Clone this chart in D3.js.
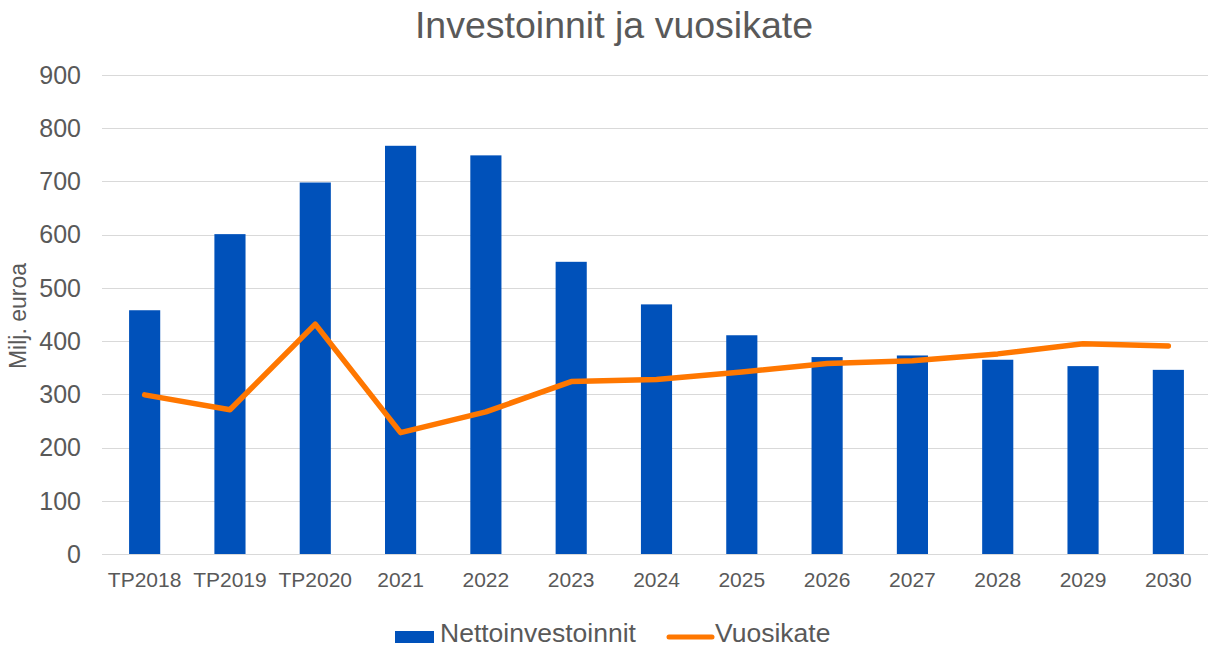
<!DOCTYPE html>
<html>

<head>
  <title>Investoinnit ja vuosikate</title>
  <script src="https://cdn.jsdelivr.net/npm/d3@7"></script>
  <style>
    body {
      margin: 0;
      background-color: #ffffff;
      font-family: "Liberation Sans", Arial, sans-serif;
    }
  </style>
</head>

<body>
  <div id="chart"></div>
  <script>
    const categories = ["TP2018", "TP2019", "TP2020", "2021", "2022", "2023", "2024",
      "2025", "2026", "2027", "2028", "2029", "2030"];
    const nettoinvestoinnit = [458, 601, 698, 767, 749, 549, 469, 411, 370, 373, 365, 353, 346];
    const vuosikate = [299, 271, 432, 228, 267, 324, 328, 342, 358, 363, 376, 395, 391];
    const yTicks = [0, 100, 200, 300, 400, 500, 600, 700, 800, 900];

    const width = 1208;
    const height = 648;
    const grey = "#595959";

    const svg = d3.select("#chart").append("svg")
      .attr("width", width)
      .attr("height", height);

    const x = d3.scaleBand()
      .domain(categories)
      .range([102, 1211])
      .padding(0);

    const y = d3.scaleLinear()
      .domain([0, 900])
      .range([554, 75]);

    const barW = x.bandwidth() * 0.365;

    // title
    svg.append("text")
      .attr("x", 614)
      .attr("y", 38)
      .attr("text-anchor", "middle")
      .attr("fill", grey)
      .style("font-size", "37.5px")
      .text("Investoinnit ja vuosikate");

    // gridlines
    svg.append("g")
      .selectAll("line")
      .data(yTicks)
      .join("line")
      .attr("x1", 102)
      .attr("x2", width)
      .attr("y1", d => Math.round(y(d)) + 0.5)
      .attr("y2", d => Math.round(y(d)) + 0.5)
      .attr("stroke", "#d9d9d9")
      .attr("stroke-width", 1);

    // y tick labels
    svg.append("g")
      .selectAll("text")
      .data(yTicks)
      .join("text")
      .attr("x", 81)
      .attr("y", d => y(d))
      .attr("dy", "0.35em")
      .attr("text-anchor", "end")
      .attr("fill", grey)
      .style("font-size", "25px")
      .text(d => d);

    // y axis title
    svg.append("text")
      .attr("transform", "translate(26,316) rotate(-90)")
      .attr("text-anchor", "middle")
      .attr("fill", grey)
      .style("font-size", "23px")
      .text("Milj. euroa");

    // x tick labels
    svg.append("g")
      .selectAll("text")
      .data(categories)
      .join("text")
      .attr("x", d => x(d) + x.bandwidth() / 2)
      .attr("y", 587)
      .attr("text-anchor", "middle")
      .attr("fill", grey)
      .style("font-size", "21px")
      .text(d => d);

    // bars
    svg.append("g")
      .selectAll("rect")
      .data(nettoinvestoinnit)
      .join("rect")
      .attr("x", (d, i) => x(categories[i]) + (x.bandwidth() - barW) / 2)
      .attr("y", d => y(d))
      .attr("width", barW)
      .attr("height", d => y(0) - y(d))
      .attr("fill", "#0051ba");

    // line
    const line = d3.line()
      .x((d, i) => x(categories[i]) + x.bandwidth() / 2)
      .y(d => y(d));

    svg.append("path")
      .datum(vuosikate)
      .attr("d", line)
      .attr("fill", "none")
      .attr("stroke", "#ff7700")
      .attr("stroke-width", 5.5)
      .attr("stroke-linejoin", "round")
      .attr("stroke-linecap", "round");

    // legend
    const legend = svg.append("g").style("font-size", "26.5px").attr("fill", grey);
    legend.append("rect")
      .attr("x", 395).attr("y", 631).attr("width", 39).attr("height", 12)
      .attr("fill", "#0051ba");
    legend.append("text")
      .attr("x", 440).attr("y", 642)
      .text("Nettoinvestoinnit");
    legend.append("line")
      .attr("x1", 669).attr("x2", 712).attr("y1", 637).attr("y2", 637)
      .attr("stroke", "#ff7700").attr("stroke-width", 5).attr("stroke-linecap", "round");
    legend.append("text")
      .attr("x", 715).attr("y", 642)
      .text("Vuosikate");
  </script>
</body>

</html>
